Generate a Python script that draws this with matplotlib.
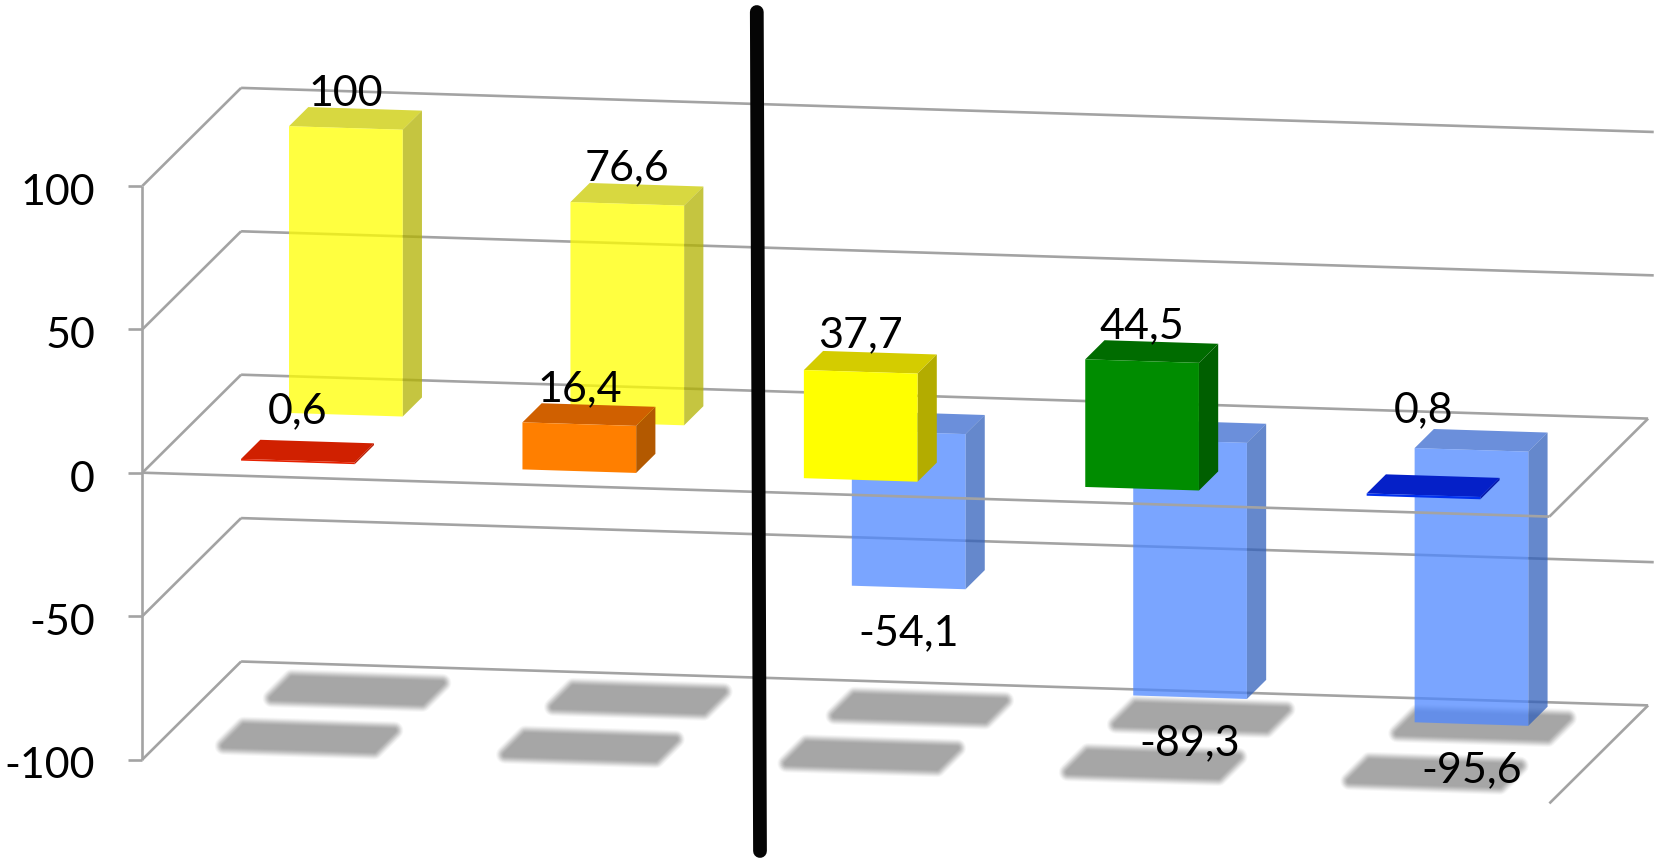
import matplotlib
matplotlib.use('Agg')
import matplotlib.pyplot as plt
from matplotlib.patches import Polygon

plt.rcParams['font.family'] = ['Lato', 'DejaVu Sans']

# chart values
tick_values = [100, 50, 0, -50, -100]
back_values = [100, 76.6, -54.1, -89.3, -95.6]
front_values = [0.6, 16.4, 37.7, 44.5, 0.8]

# label lift above (or below) the bar end, in pixels
back_label_lift = [34, 36, -46, -46, -46]
front_label_lift = [49, 35, 37, 35, 85]

# face colours: front, top, side
YELLOW_PALE = ('#ffff00', '#cccc00', '#b2b200')
BLUE_PALE = ('#4e87ff', '#396acf', '#3160bb')
back_colors = [YELLOW_PALE, YELLOW_PALE, BLUE_PALE, BLUE_PALE, BLUE_PALE]
front_colors = [
    ('#e62000', '#d02000', '#b81a00'),
    ('#ff7f00', '#d06000', '#b35900'),
    ('#ffff00', '#d4cc00', '#b3ac00'),
    ('#008c00', '#006c00', '#005f00'),
    ('#0030f0', '#0520c8', '#0518a8'),
]

# oblique projection, pixels of the output image
ORIGIN_X, ORIGIN_Y = 142.4, 472.7
UNIT_X, SLOPE_X = 281.4, 8.78
UNIT_V = 2.868
DEPTH_X, DEPTH_Y = 98.7, 98.0
X_END = 5.0

GRID = '#a3a3a3'
SHADOW = '#a6a6a6'
FONT_SIZE = 31


def project(x, v, z):
    """Category position, value and depth (0 front, 1 back) to image pixels"""
    px = ORIGIN_X + UNIT_X * x + DEPTH_X * z
    py = ORIGIN_Y - UNIT_V * v + SLOPE_X * x - DEPTH_Y * z
    return px, py


def grid_line(ax, start, end, zorder=1):
    ax.plot([start[0], end[0]], [start[1], end[1]], color=GRID, lw=1.9,
            solid_capstyle='butt', zorder=zorder)


def draw_bar(ax, x0, value, z0, colors, alpha, zorder):
    x1 = x0 + BAR_WIDTH
    z1 = z0 + BAR_DEPTH
    hi = max(value, 0)
    lo = min(value, 0)
    top = [project(x0, hi, z0), project(x1, hi, z0), project(x1, hi, z1), project(x0, hi, z1)]
    side = [project(x1, hi, z0), project(x1, hi, z1), project(x1, lo, z1), project(x1, lo, z0)]
    front = [project(x0, hi, z0), project(x1, hi, z0), project(x1, lo, z0), project(x0, lo, z0)]
    for pts, color in ((top, colors[1]), (side, colors[2]), (front, colors[0])):
        ax.add_patch(Polygon(pts, closed=True, fc=color, ec='none', alpha=alpha, zorder=zorder))


def draw_shadow(ax, x0, z0):
    # soft floor shadow: nested round strokes going from white to grey
    x_a, x_b = x0 - 0.065, x0 + BAR_WIDTH + 0.065
    z_a, z_b = z0 + 0.01, z0 + BAR_DEPTH + 0.02
    pts = [project(x_a, -100, z_a), project(x_b, -100, z_a), project(x_b, -100, z_b), project(x_a, -100, z_b)]
    steps = [(13, '#f6f6f6'), (11.5, '#ebebeb'), (10, '#dddddd'), (8.5, '#cfcfcf'),
             (7, '#c2c2c2'), (5.5, '#b6b6b6'), (4, '#acacac'), (2.5, SHADOW)]
    for lw, color in steps:
        ax.add_patch(Polygon(pts, closed=True, fc=color, ec=color, lw=lw,
                             joinstyle='round', zorder=1.5))


BAR_LEFT = 0.298
BAR_WIDTH = 0.404
BAR_DEPTH = 0.195
FRONT_Z = 0.15
BACK_Z = 0.636

fig = plt.figure(figsize=(16.54, 8.6), dpi=100)
ax = fig.add_axes([0, 0, 1, 1])
ax.set_xlim(0, 1654)
ax.set_ylim(860, 0)
ax.axis('off')

# back wall lines, side wall diagonals and tick marks
for v in tick_values:
    front_left = project(0, v, 0)
    back_left = project(0, v, 1)
    grid_line(ax, front_left, back_left)
    # the lines without a side edge run on to the image border
    end_x = X_END if v in (0, -100) else X_END + 0.02
    grid_line(ax, back_left, project(end_x, v, 1))
    grid_line(ax, (front_left[0] - 14, front_left[1]), front_left)
    ax.text(95, front_left[1] + 7, str(v), ha='right', va='center', fontsize=FONT_SIZE, color='black', zorder=6)

grid_line(ax, project(0, 100, 0), project(0, -100, 0))

# right edge of the zero plane and the floor
grid_line(ax, project(X_END, 0, 0), project(X_END, 0, 1))
grid_line(ax, project(X_END, -100, 0), project(X_END, -100, 1))

for i in range(len(back_values)):
    draw_shadow(ax, i + BAR_LEFT, BACK_Z)
    draw_shadow(ax, i + BAR_LEFT, FRONT_Z)

for i, value in enumerate(back_values):
    draw_bar(ax, i + BAR_LEFT, value, BACK_Z, back_colors[i], 0.75, 2)

# front edge of the zero plane runs over the back row
grid_line(ax, project(0, 0, 0), project(X_END, 0, 0), zorder=3)

for i, value in enumerate(front_values):
    draw_bar(ax, i + BAR_LEFT, value, FRONT_Z, front_colors[i], 1.0, 4)

# value labels with decimal comma
rows = [(back_values, BACK_Z, back_label_lift), (front_values, FRONT_Z, front_label_lift)]
for values, z0, lifts in rows:
    for i, value in enumerate(values):
        px, py = project(i + BAR_LEFT + BAR_WIDTH / 2, value, z0)
        ax.text(px, py - lifts[i], f'{value:g}'.replace('.', ','), ha='center', va='center',
                fontsize=FONT_SIZE, color='black', zorder=6)

# thick divider between the two groups
ax.plot([756.8, 760], [12, 851], color='#050505', lw=9.9, solid_capstyle='round', zorder=5)

fig.savefig('out.png', dpi=100)
